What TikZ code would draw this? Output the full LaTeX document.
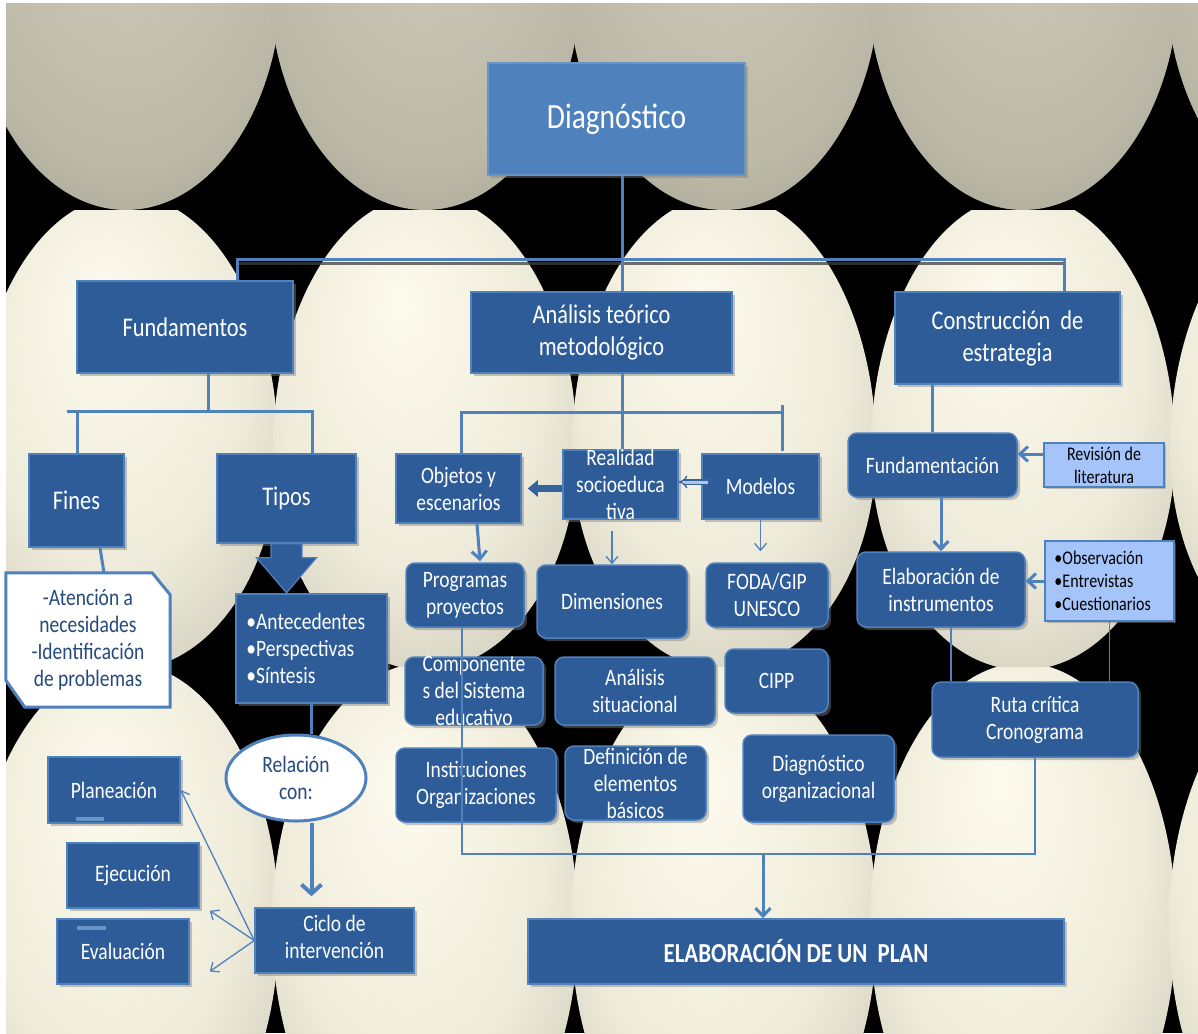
\documentclass[tikz,border=0pt]{standalone}
\usepackage{fontspec}
\setmainfont{Carlito}[FakeStretch=0.83]
\usetikzlibrary{arrows.meta,fit,shapes.geometric,shadows}

\definecolor{boxblue}{HTML}{2D5C99}
\definecolor{lineblue}{HTML}{4F81BD}
\definecolor{diagblue}{HTML}{4F81BD}
\definecolor{lightbox}{HTML}{A4C4FA}
\definecolor{darktext}{HTML}{254A7C}
\definecolor{arrowdark}{HTML}{34629E}
\definecolor{eAin}{RGB}{206,203,188}
\definecolor{eAmid}{RGB}{188,185,168}
\definecolor{eAdark}{RGB}{150,147,130}
\definecolor{eAout}{RGB}{95,93,80}
\definecolor{eBin}{RGB}{253,251,238}
\definecolor{eBmid}{RGB}{238,235,218}
\definecolor{eBdark}{RGB}{196,193,176}
\definecolor{eBout}{RGB}{112,110,94}

\pgfdeclareradialshading{eggA}{\pgfpoint{0bp}{12bp}}{color(0bp)=(eAin); color(26bp)=(eAmid); color(43bp)=(eAdark); color(50bp)=(eAout)}
\pgfdeclareradialshading{eggB}{\pgfpoint{-4bp}{14bp}}{color(0bp)=(eBin); color(22bp)=(eBmid); color(40bp)=(eBdark); color(50bp)=(eBout)}

\begin{document}
\begin{tikzpicture}[x=1pt,y=-1pt,
  bx/.style={draw=lineblue, line width=1.5pt, fill=boxblue, inner sep=0pt,
    drop shadow={shadow xshift=3pt, shadow yshift=-3pt, opacity=0.45}},
  rbx/.style={bx, rounded corners=9pt},
  lbx/.style={draw=lineblue, line width=1.5pt, fill=lightbox, inner sep=0pt,
    drop shadow={shadow xshift=2pt, shadow yshift=-2pt, opacity=0.45}},
  tx/.style={text=white, align=center, inner sep=0pt, font=\fontsize{23.5}{27}\selectfont},
  bigtx/.style={tx, font=\fontsize{27}{32}\selectfont},
  ltx/.style={text=black, align=left, inner sep=0pt, font=\fontsize{19.3}{23}\selectfont},
  conn/.style={draw=lineblue, line width=3pt},
  fine/.style={draw=lineblue, line width=1.3pt},
  barb/.style={-{Straight Barb[length=8pt,width=15pt]}},
  smallbarb/.style={-{Straight Barb[length=7pt,width=12pt]}},
]
\useasboundingbox (0,0) rectangle (1198,1033);
\fill[white] (0,0) rectangle (1198,1033);
\fill[black] (6,4) rectangle (1198,1033);

% ---------- background eggs ----------
\begin{scope}
  \clip (6,4) rectangle (1198,210);
  \foreach \cx in {-173,126,425,724,1023,1322}
    \shade[shading=eggA] (\cx,-22) ellipse [x radius=156, y radius=232];
\end{scope}
\begin{scope}
  \clip (6,210) rectangle (1198,667);
  \foreach \cx in {-173,126,425,724,1023,1322}
    \shade[shading=eggB] (\cx-152,450) arc[start angle=180, end angle=360, x radius=152, y radius=255]
      arc[start angle=0, end angle=180, x radius=152, y radius=220] -- cycle;
\end{scope}
\begin{scope}
  \clip (6,667) rectangle (1198,1033);
  \foreach \cx in {-173,126,425,724,1023,1322}
    \shade[shading=eggB] (\cx,925) ellipse [x radius=153, y radius=262];
\end{scope}

% ---------- boxes ----------
\node[bx, fill=diagblue, draw=diagblue!85!white, fit={(488,63) (745,175)}] (diag) {};
\node[tx, font=\fontsize{35.5}{40}\selectfont] (diag-t) at (diag) {Diagnóstico};

\node[bx, fit={(77,281) (293,373)}] (fund) {};
\node[bigtx] (fund-t) at (fund) {Fundamentos};
\node[bx, fit={(471,292) (732,373)}] (anal) {};
\node[bigtx] (anal-t) at (anal) {Análisis teórico\\metodológico};
\node[bx, fit={(895,292) (1120,384)}] (cons) {};
\node[bigtx] (cons-t) at (cons) {Construcción\ \ de\\estrategia};

\node[bx, fit={(29,454) (124,547)}] (fines) {};
\node[bigtx] (fines-t) at (fines) {Fines};
\node[bx, fit={(217,454) (356,543)}] (tipos) {};
\node[bigtx] (tipos-t) at (tipos) {Tipos};

% callout
\node[inner sep=0pt, fit={(6,573) (170,707)}] (call) {};
\draw[draw=lineblue, line width=3pt, fill=white] (call.north west) -- ([xshift=-18pt]call.north east)
  -- ([yshift=-22pt]call.north east) -- (call.south east) -- ([xshift=19pt]call.south west)
  -- ([yshift=27pt]call.south west) -- cycle;
\node[tx, text=darktext] (call-t) at (call) {-Atención a\\necesidades\\-Identificación\\de problemas};

% block arrow from Tipos
\draw[draw=lineblue, line width=1.2pt, fill=boxblue] (tipos.south) ++(-15.5,0) -- ++(31,0) -- ++(0,14)
  -- ++(14.5,0) -- ++(-30,35) -- ++(-30,-35) -- ++(14.5,0) -- cycle;

\node[bx, fit={(236,594) (387,703)}] (ant) {};
\node[tx, align=left, anchor=west] (ant-t) at ([xshift=11pt]ant.west) {•Antecedentes\\•Perspectivas\\•Síntesis};

\node[ellipse, draw=lineblue, line width=3pt, fill=white, minimum width=140pt, minimum height=86pt, inner sep=0pt] (rel) at (296,778) {};
\node[tx, text=darktext] (rel-t) at (rel) {Relación\\con:};

\node[bx, fit={(255,908) (414,973)}] (ciclo) {};
\node[tx] (ciclo-t) at ([yshift=4pt]ciclo.center) {Ciclo de\\intervención};

\node[bx, fit={(48,757) (180,823)}] (plan) {};
\node[tx] (plan-t) at (plan) {Planeación};
\node[bx, fit={(67,843) (199,908)}] (ejec) {};
\node[tx] (ejec-t) at (ejec) {Ejecución};
\node[bx, fit={(57,919) (189,984)}] (eval) {};
\node[tx] (eval-t) at (eval) {Evaluación};
\fill[lineblue!85!white] (76,817) rectangle (104,821);
\fill[lineblue!85!white] (77,926) rectangle (106,930);

% middle column
\node[bx, fit={(396,454) (521,523)}] (obj) {};
\node[tx] (obj-t) at (obj) {Objetos y\\escenarios};
\node[bx, fit={(563,450) (678,519)}] (real) {};
\node[tx] (real-t) at (real) {Realidad\\socioeduca\\tiva};
\node[bx, fit={(702,454) (819,519)}] (mod) {};
\node[tx] (mod-t) at (mod) {Modelos};

\node[rbx, fit={(406,563) (524,627)}] (prog) {};
\node[tx] (prog-t) at (prog) {Programas\\proyectos};
\node[rbx, fit={(537,565) (687,638)}] (dim) {};
\node[tx] (dim-t) at (dim) {Dimensiones};
\node[rbx, fit={(706,563) (828,627)}] (foda) {};
\node[tx] (foda-t) at (foda) {FODA/GIP\\UNESCO};

\node[rbx, fit={(405,657) (543,725)}] (comp) {};
\node[tx] (comp-t) at (comp) {Componente\\s del Sistema\\educativo};
\node[rbx, fit={(555,657) (715,725)}] (ansit) {};
\node[tx] (ansit-t) at (ansit) {Análisis\\situacional};
\node[rbx, fit={(725,649) (828,713)}] (cipp) {};
\node[tx] (cipp-t) at (cipp) {CIPP};

\node[rbx, fit={(396,748) (556,822)}] (inst) {};
\node[tx] (inst-t) at (inst) {Instituciones\\Organizaciones};
\node[rbx, fit={(565,746) (706,820)}] (defin) {};
\node[tx] (defin-t) at (defin) {Definición de\\elementos\\básicos};
\node[rbx, fit={(743,735) (894,822)}] (dorg) {};
\node[tx] (dorg-t) at (dorg) {Diagnóstico\\organizacional};

\node[bx, fit={(528,919) (1064,984)}] (elab) {};
\node[tx, font=\fontsize{27.5}{30}\selectfont\bfseries] (elab-t) at (elab) {ELABORACIÓN DE UN\ \ PLAN};

% right column
\node[rbx, fit={(848,433) (1017,497)}] (fundam) {};
\node[tx] (fundam-t) at (fundam) {Fundamentación};
\node[lbx, fit={(1044,443) (1164,487)}] (rev) {};
\node[ltx, align=center] (rev-t) at (rev) {Revisión de\\literatura};
\node[rbx, fit={(857,552) (1025,627)}] (elabi) {};
\node[tx] (elabi-t) at (elabi) {Elaboración de\\instrumentos};
\node[lbx, fit={(1045,541) (1174,621)}] (obs) {};
\node[ltx, anchor=west] (obs-t) at ([xshift=10pt]obs.west) {•Observación\\•Entrevistas\\•Cuestionarios};
\node[rbx, fit={(932,682) (1138,757)}] (ruta) {};
\node[tx] (ruta-t) at (ruta) {Ruta crítica\\Cronograma};

% ---------- connectors ----------
\coordinate (b1) at (622,259);
\coordinate (b1l) at (237,259);
\coordinate (b1r) at (1064,259);
\draw[black!75, line width=3pt, opacity=0.75] ([yshift=-4pt]b1l) -- ([yshift=-4pt]b1r);
\draw[conn] (diag.south -| b1) -- (anal.north -| b1);
\draw[conn] (fund.north -| b1l) -- (b1l) -- (b1r) -- (cons.north -| b1r);

\coordinate (b2) at (208,411);
\coordinate (b2l) at (67,411);
\coordinate (b2a) at (77,411);
\coordinate (b2r) at (312,411);
\draw[conn] (fund.south -| b2) -- (b2);
\draw[conn] (b2l) -- (b2r) -- (tipos.north -| b2r);
\draw[conn] (b2a) -- (fines.north -| b2a);

\draw[conn] ([xshift=23.5pt]fines.south) -- ([xshift=16pt]call.north);
\draw[conn] (ant.south) -- (ant.south |- rel.north);
\draw[conn, line width=4pt, -{Straight Barb[length=9pt,width=20pt]}, shorten >=11pt] (ant.south |- rel.south) -- (ant.south |- ciclo.north);

\draw[fine, smallbarb] (ciclo.west) -- (plan.east);
\draw[fine, smallbarb] (ciclo.west) -- ([xshift=10pt,yshift=-2pt]ejec.south east);
\draw[fine, smallbarb] (ciclo.west) -- ([xshift=20pt,yshift=-20pt]eval.east);

\coordinate (b3) at (622,412);
\coordinate (b3l) at (461,412);
\coordinate (b3r) at (782,412);
\coordinate (b3t) at (782,405);
\draw[conn] (anal.south -| b3) -- (real.north -| b3);
\draw[conn] (obj.north -| b3l) -- (b3l) -- (b3r);
\draw[conn] (b3t) -- ([yshift=2pt]mod.north -| b3t);

\draw[draw=arrowdark, line width=7pt, -{Triangle[length=10pt,width=16pt]}] (real.west |- obj.east) -- ([xshift=6pt]obj.east);
\draw[draw=arrowdark, line width=1.3pt, double=lineblue!45!white, double distance=3pt, {Implies}-{Implies}]
  ([yshift=2.5pt]real.east) -- ([xshift=12pt,yshift=4.5pt]mod.west);

\draw[conn, barb] ([xshift=18.5pt]obj.south) -- ([xshift=15pt,yshift=1pt]prog.north);
\draw[fine, smallbarb, shorten <=11pt] (real.south -| dim.north) -- (dim.north);
\draw[fine, smallbarb, shorten >=11pt] (mod.south) -- (mod.south |- foda.north);

\coordinate (b4l) at (462,854);
\coordinate (b4m) at (763,854);
\draw[fine] (prog.south -| b4l) -- (b4l) -- (b4l -| ruta.south) -- (ruta.south);
\draw[conn, barb] (b4m) -- (elab.north -| b4m);

\draw[conn] (cons.south -| fundam.north) -- (fundam.north);
\draw[conn, barb] ([yshift=11pt]rev.west) -- ([yshift=11pt]fundam.east);
\draw[conn, barb] (fundam.south -| elabi.north) -- (elabi.north);
\draw[conn, barb] (obs.west) -- (obs.west -| elabi.east);
\coordinate (e1) at ([xshift=10pt]elabi.south);
\draw[fine] (e1) -- (e1 |- ruta.north);
\draw[fine] (obs.south) -- (obs.south |- ruta.north);
\end{tikzpicture}
\end{document}
